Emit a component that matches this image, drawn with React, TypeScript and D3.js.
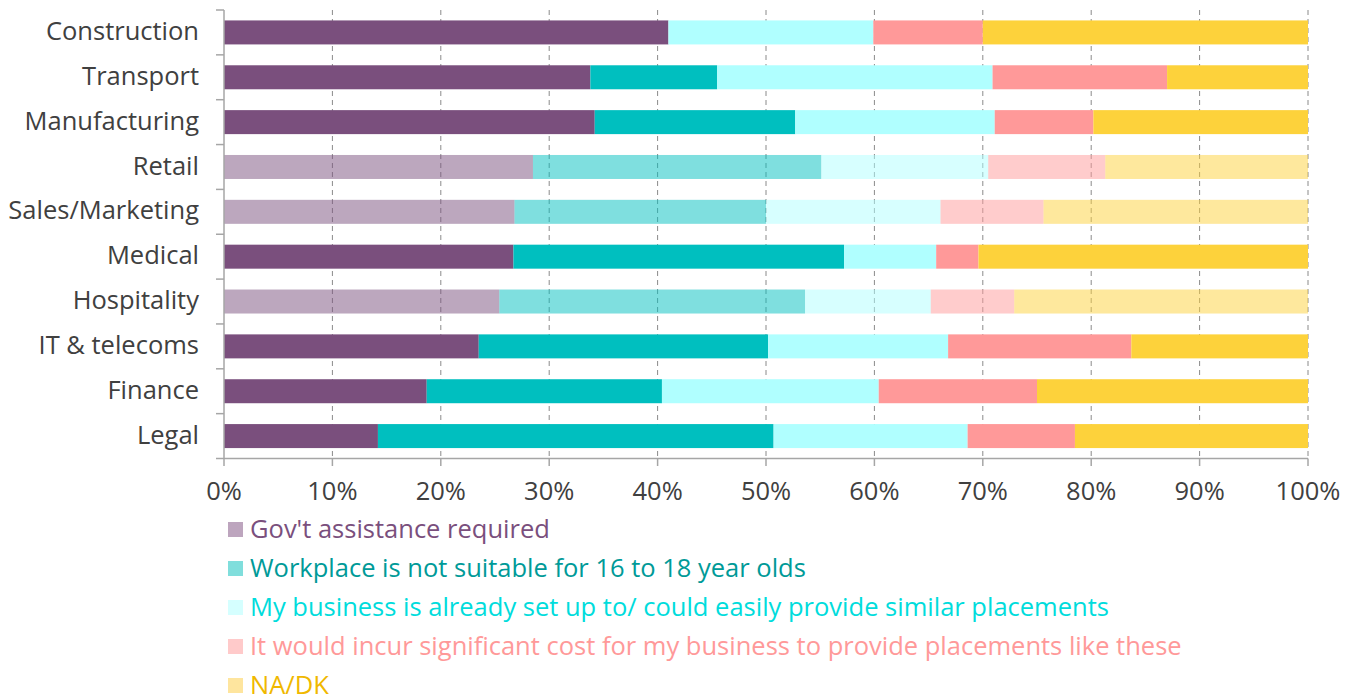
import React from "react";
import * as d3 from "d3";

const categories = ["Construction", "Transport", "Manufacturing", "Retail", "Sales/Marketing", "Medical", "Hospitality", "IT & telecoms", "Finance", "Legal"];
const fadedCategories = ["Retail", "Sales/Marketing", "Hospitality"];
const seriesNames = [
  "Gov't assistance required",
  "Workplace is not suitable for 16 to 18 year olds",
  "My business is already set up to/ could easily provide similar placements",
  "It would incur significant cost for my business to provide placements like these",
  "NA/DK",
];
const govAssistance = [41.0, 33.8, 34.2, 28.5, 26.8, 26.7, 25.4, 23.5, 18.7, 14.2];
const notSuitable = [0, 11.7, 18.5, 26.6, 23.2, 30.5, 28.2, 26.7, 21.7, 36.5];
const alreadySetUp = [18.9, 25.4, 18.4, 15.4, 16.1, 8.5, 11.6, 16.6, 20.0, 17.9];
const significantCost = [10.1, 16.1, 9.1, 10.8, 9.5, 3.9, 7.7, 16.9, 14.6, 9.9];
const naDk = [30.0, 13.0, 19.8, 18.7, 24.4, 30.4, 27.1, 16.3, 25.0, 21.5];
const xTicks = [0, 10, 20, 30, 40, 50, 60, 70, 80, 90, 100];

const barColors = ["#7a4f7d", "#00bfbf", "#b0ffff", "#ff9999", "#fdd23b"];
const legendSwatch = ["#bda5be", "#80dedc", "#d5ffff", "#ffcaca", "#fee59e"];
const legendText = ["#7a4f7d", "#009a98", "#00dcdc", "#ff9999", "#f0b800"];

const W = 1355;
const H = 697;
const FONT = "'Open Sans', Lato, sans-serif";
const FS = 25.5;

export default function App() {
  const series = [govAssistance, notSuitable, alreadySetUp, significantCost, naDk];
  const x = d3.scaleLinear().domain([0, 100]).range([224, 1308]);
  const y = d3.scaleBand<string>().domain(categories).range([10, 458.5]).paddingInner(0.465).paddingOuter(0.2325);
  const yEdges = d3.scaleBand<string>().domain(categories).range([10, 458.5]);
  const stackData = categories.map((c, i) => {
    const o: Record<string, number | string> = { cat: c };
    series.forEach((s, j) => (o["s" + j] = s[i]));
    return o;
  });
  const stack = d3.stack<any>().keys(series.map((_, j) => "s" + j))(stackData as any);
  const legendY = d3.scaleLinear().domain([0, 4]).range([529.5, 685.5]);

  return (
    <svg width={W} height={H} style={{ position: "absolute", left: 0, top: 0, fontFamily: FONT }}>
      <rect width={W} height={H} fill="#fff" />
      {xTicks.slice(1).map((t) => (
        <line key={"g" + t} x1={x(t)} x2={x(t)} y1={10} y2={458.5} stroke="#8a8a8a" strokeWidth={1} strokeDasharray="5,4" />
      ))}
      {stack.map((layer, j) => (
        <g key={"l" + j} fill={barColors[j]}>
          {layer.map((d: any, i: number) => {
            const c = categories[i];
            const w = x(d[1]) - x(d[0]);
            if (w <= 0) return null;
            return (
              <rect
                key={c}
                x={x(d[0])}
                y={y(c)!}
                width={w}
                height={y.bandwidth()}
                opacity={fadedCategories.includes(c) ? 0.5 : 1}
              />
            );
          })}
        </g>
      ))}
      {/* y axis */}
      <line x1={224} x2={224} y1={10} y2={458.5} stroke="#a6a6a6" strokeWidth={1.5} />
      {categories.map((c) => (
        <line key={"yt" + c} x1={216} x2={224} y1={yEdges(c)!} y2={yEdges(c)!} stroke="#a6a6a6" strokeWidth={1.5} />
      ))}
      {categories.map((c) => (
        <text key={"yl" + c} x={199} y={y(c)! + y.bandwidth() / 2} dy="0.3em" textAnchor="end" fontSize={FS} fill="#404040">
          {c}
        </text>
      ))}
      {/* x axis */}
      <line x1={216} x2={1308} y1={458.5} y2={458.5} stroke="#a6a6a6" strokeWidth={1.5} />
      {xTicks.map((t) => (
        <line key={"xt" + t} x1={x(t)} x2={x(t)} y1={458.5} y2={466} stroke="#a6a6a6" strokeWidth={1.5} />
      ))}
      {xTicks.map((t) => (
        <text key={"xl" + t} x={x(t)} y={500} textAnchor="middle" fontSize={FS} fill="#404040">
          {t + "%"}
        </text>
      ))}
      {/* legend */}
      {seriesNames.map((n, j) => (
        <g key={"lg" + j}>
          <rect x={228} y={legendY(j) - 7.5} width={15} height={15} fill={legendSwatch[j]} />
          <text x={250} y={legendY(j)} dy="0.33em" fontSize={FS} fill={legendText[j]}>
            {n}
          </text>
        </g>
      ))}
    </svg>
  );
}
